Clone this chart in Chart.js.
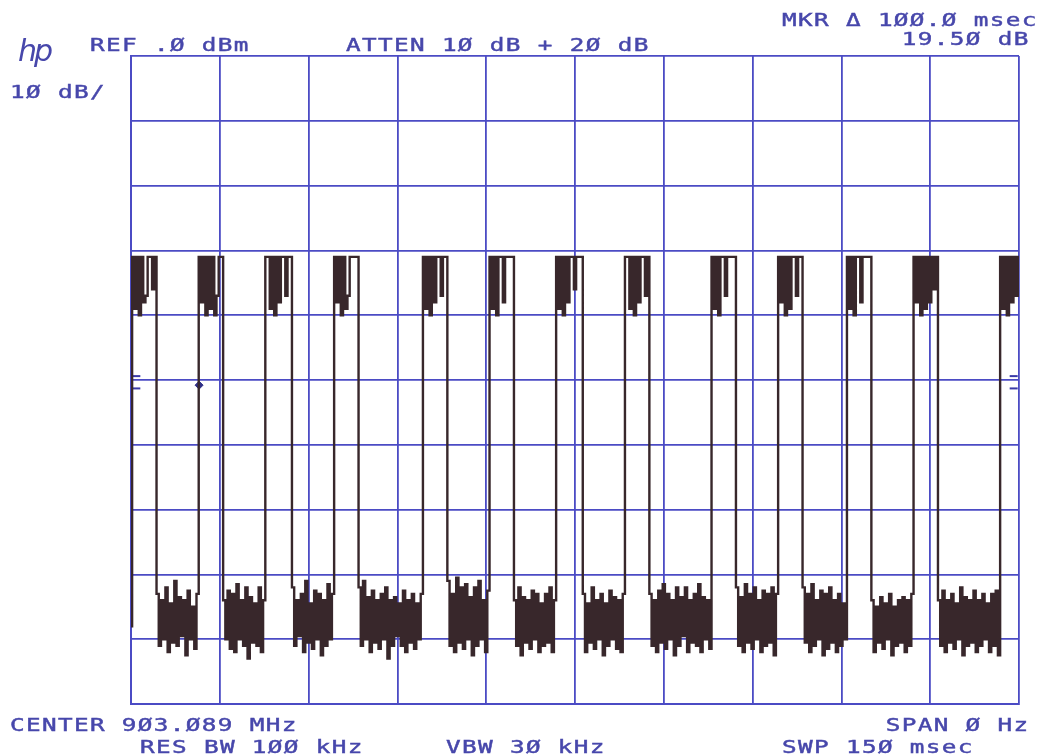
<!DOCTYPE html>
<html>
<head>
<meta charset="utf-8">
<script src="https://cdn.jsdelivr.net/npm/chart.js@4/dist/chart.umd.min.js"></script>
<style>
  html, body { margin: 0; padding: 0; background: #fff; }
  #wrap { position: relative; width: 1040px; height: 755px; overflow: hidden; }
  #plot { position: absolute; left: 0; top: 0; }
  .lbl {
    position: absolute; white-space: pre; color: #4747ab;
    font: 18px/18px "DejaVu Sans Mono", monospace; letter-spacing: 1px;
    -webkit-text-stroke: 0.45px #4747ab;
    transform: scaleX(1.35); transform-origin: left top;
  }
  .lbl.r { transform-origin: right top; text-align: right; }
  .logo {
    position: absolute; left: 18px; top: 36px; color: #4747ab;
    font: italic 30px/30px "DejaVu Sans", sans-serif; letter-spacing: -3px;
  }
</style>
</head>
<body>
<div id="wrap">
  <canvas id="plot" width="1040" height="755"></canvas>
  <div class="logo">hp</div>
  <div class="lbl" style="left:90px; top:36px;">REF .Ø dBm</div>
  <div class="lbl" style="left:346px; top:36px;">ATTEN 1Ø dB + 2Ø dB</div>
  <div class="lbl" style="left:782px; top:11px;">MKR Δ 1ØØ.Ø msec</div>
  <div class="lbl r" style="right:10px; top:30px;">19.5Ø dB</div>
  <div class="lbl" style="left:10px; top:83px;">1Ø dB/</div>
  <div class="lbl" style="left:10px; top:716px;">CENTER 9Ø3.Ø89 MHz</div>
  <div class="lbl r" style="right:10px; top:716px;">SPAN Ø Hz</div>
  <div class="lbl" style="left:140px; top:738px;">RES BW 1ØØ kHz</div>
  <div class="lbl" style="left:446px; top:738px;">VBW 3Ø kHz</div>
  <div class="lbl" style="left:782px; top:738px;">SWP 15Ø msec</div>
</div>
<script>
// sweep: 150 msec over 401 trace points, ref 0 dBm, 10 dB/div
const sweepMs = 150;
const refDb = 0;
const bottomDb = -100;

// trace amplitude (dBm), one value per trace point
const traceDb = [
  -88,
  // pulse 1
  -31, -39, -31, -40, -31, -38, -37, -31, -31, -36, -31,
  -83, -91, -84, -90, -82, -92, -84.5, -90.5, -81, -91, -83.5, -89.5, -84, -92.5, -82.5, -90, -85, -91.5, -83,
  // pulse 2
  -31, -38, -31, -40, -31, -39, -31, -40, -37, -31, -31,
  -84, -90, -82.5, -91.5, -83, -92, -81.5, -90, -84, -91, -82, -93, -83.5, -90.5, -84.5, -91, -82, -92, -84,
  // pulse 3
  -31, -31, -39, -31, -40, -31, -38, -31, -31, -37, -31, -31,
  -82, -91, -84, -89.5, -83, -92, -81, -90.5, -84.5, -91.5, -82.5, -90, -83, -92.5, -84, -91, -81.5, -90, -83,
  // pulse 4
  -31, -38, -31, -40, -31, -39, -37, -31, -31, -31, -31,
  -82, -91, -81, -90, -83.5, -92, -82.5, -90.5, -84, -91.5, -83, -90, -82, -93, -84, -91, -83.5, -89.5, -84.5,
  -91, -82.5, -92, -84, -90.5, -83, -91.5, -84.5, -90, -83,
  // pulse 5
  -31, -39, -31, -40, -31, -38, -31, -31, -37, -31, -31,
  -81, -91, -83, -92, -80.5, -90.5, -82, -91.5, -81.5, -90, -83.5, -92.5, -82, -91, -81, -90, -84, -92, -82.5,
  // pulse 6
  -31, -39, -31, -40, -31, -31, -38, -31, -31, -31, -31,
  -84, -91, -82, -92.5, -83.5, -90.5, -84, -91.5, -82.5, -90, -83, -92, -84.5, -91, -83, -90.5, -82, -92, -84,
  // pulse 7
  -31, -39, -31, -40, -31, -38, -31, -31, -36, -31, -31, -31,
  -83, -92, -84.5, -90.5, -82, -91.5, -84, -90, -83, -92.5, -84.5, -91, -82.5, -90, -83.5, -91.5, -84, -92, -83,
  // pulse 8
  -31, -31, -39, -31, -40, -31, -38, -31, -31, -37, -31,
  -83, -91, -84, -92, -82.5, -90.5, -81.5, -91.5, -83, -90, -84, -92.5, -82, -91, -83.5, -89.5, -82, -92,
  -84, -90.5, -83, -91, -81.5, -92, -83.5, -90, -84, -91.5,
  // pulse 9
  -31, -39, -31, -40, -31, -31, -37, -31, -31, -31, -31,
  -82, -91, -83.5, -92, -81.5, -90.5, -83, -91.5, -82, -90, -84, -92, -82.5, -91, -83, -90.5, -82, -92.5, -83,
  // pulse 10
  -31, -38, -31, -40, -31, -39, -31, -31, -37, -31, -31,
  -82, -90.5, -83, -92, -81.5, -91, -84, -90, -82.5, -92.5, -83, -91.5, -82, -90.5, -84, -92, -83, -91, -84.5, -90,
  // pulse 11
  -31, -39, -31, -40, -31, -31, -38, -31, -31, -31, -31,
  -84, -92, -85, -90.5, -83.5, -91.5, -84.5, -90, -83, -92.5, -85, -91, -84, -90.5, -83.5, -92, -84, -91, -83,
  // pulse 12
  -31, -38, -31, -40, -31, -39, -31, -38, -31, -36, -31,
  -84, -91, -82.5, -92, -84, -90.5, -83, -91.5, -84.5, -90, -82, -92.5, -83.5, -91, -84, -90.5, -82.5, -92,
  -84, -91, -83, -90, -84.5, -92, -83, -91, -82.5, -92.5,
  // pulse 13
  -31, -39, -31, -40, -31, -38, -31, -37, -31
];

// marker (msec, dBm)
const markerMs = [11.5];
const markerDb = [-50.8];

// threshold ticks at the graticule edges
const edgeTickMs = [0.9, 0.9, 149.1, 149.1];
const edgeTickDb = [-49.4, -51.3, -49.4, -51.3];

const gridBlue = '#4b4bc4';
const traceColor = '#38272b';

const step = sweepMs / (traceDb.length - 1);
const tracePts = traceDb.map((v, i) => ({ x: i * step, y: v }));

new Chart(document.getElementById('plot'), {
  type: 'line',
  data: {
    datasets: [
      {
        data: tracePts,
        borderColor: traceColor,
        borderWidth: 2.4,
        pointRadius: 0,
        stepped: 'middle',
        fill: false
      },
      {
        type: 'scatter',
        data: markerMs.map((t, i) => ({ x: t, y: markerDb[i] })),
        pointStyle: 'rectRot',
        pointRadius: 4,
        backgroundColor: '#2e2e86',
        borderColor: '#2e2e86'
      },
      {
        type: 'scatter',
        data: edgeTickMs.map((t, i) => ({ x: t, y: edgeTickDb[i] })),
        pointStyle: 'line',
        pointRadius: 4,
        borderWidth: 2,
        borderColor: '#3a3aa8',
        clip: false
      }
    ]
  },
  options: {
    responsive: false,
    animation: false,
    devicePixelRatio: 1,
    layout: { padding: { left: 131, top: 56, right: 21, bottom: 51 } },
    plugins: { legend: { display: false }, tooltip: { enabled: false } },
    scales: {
      x: {
        type: 'linear',
        min: 0,
        max: sweepMs,
        ticks: { display: false, stepSize: sweepMs / 10 },
        grid: { color: gridBlue, lineWidth: 1.8, drawTicks: false },
        border: { display: true, color: gridBlue, width: 2 }
      },
      y: {
        min: bottomDb,
        max: refDb,
        ticks: { display: false, stepSize: 10 },
        grid: { color: gridBlue, lineWidth: 1.8, drawTicks: false },
        border: { display: true, color: gridBlue, width: 2 }
      }
    }
  }
});
</script>
</body>
</html>
